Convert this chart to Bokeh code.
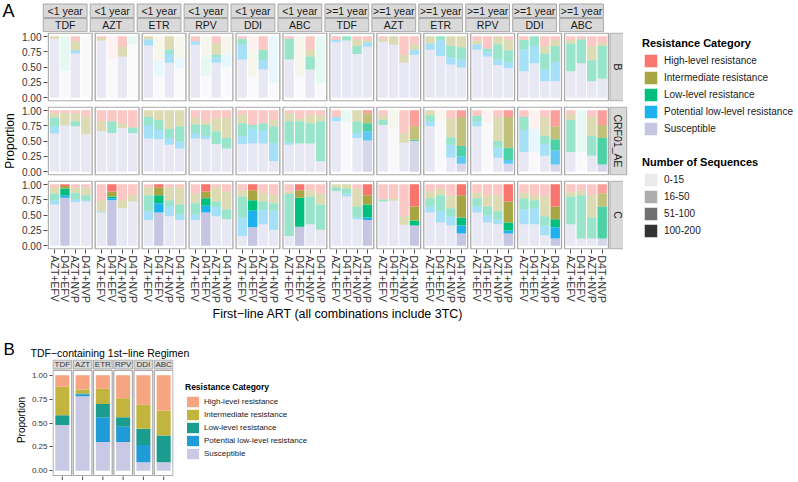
import numpy as np
from bokeh.plotting import figure
from bokeh.layouts import column, row
from bokeh.models import (FixedTicker, Range1d, Legend, LegendItem, PrintfTickFormatter)
from bokeh.embed import file_html
from bokeh.resources import INLINE
from bokeh.core.properties import value

# ---------------------------------------------------------------- data
categories = ["High-level resistance", "Intermediate resistance", "Low-level resistance",
              "Potential low-level resistance", "Susceptible"]
regimens = ["AZT+EFV", "D4T+EFV", "AZT+NVP", "D4T+NVP"]
durations = ["<1 year", "<1 year", "<1 year", "<1 year", "<1 year", "<1 year",
             ">=1 year", ">=1 year", ">=1 year", ">=1 year", ">=1 year", ">=1 year"]
drugs = ["TDF", "AZT", "ETR", "RPV", "DDI", "ABC", "TDF", "AZT", "ETR", "RPV", "DDI", "ABC"]
subtypes = ["B", "CRF01_AE", "C"]
count_classes = ["0-15", "16-50", "51-100", "100-200"]

# values: 12 facets x 4 regimens (facet-major order)
b_susceptible = [.96, .44, .72, 1.0, .93, .63, .67, .87, .85, .35, .57, .48, .86, .36, .57, .50,
                 .62, .36, .46, .24, .62, .36, .46, .24, .90, .93, .71, .83, .91, .86, .57, .70,
                 .78, .68, .54, .49, .78, .67, .53, .48, .43, .56, .27, .27, .43, .56, .27, .31]
b_potential = [0, 0, .05, 0, 0, 0, 0, 0, .10, .25, .14, .17, .06, 0, .09, .20,
               .25, 0, .15, .76, 0, 0, 0, 0, .04, 0, 0, .07, 0, 0, 0, .08,
               .10, .25, .12, .13, .09, .08, .09, .10, .36, .28, .19, .31, 0, 0, 0, 0]
b_low = [0, .56, 0, 0, 0, 0, 0, .13, 0, 0, .07, 0, 0, .30, .04, 0,
         .09, 0, .17, 0, .34, 0, .21, .76, 0, .07, .13, 0, 0, 0, 0, 0,
         0, .07, .18, .20, 0, .05, .25, .19, .15, .16, .26, .26, .45, .39, .34, .53]
b_intermediate = [.04, 0, .15, 0, .04, 0, .16, 0, .05, .40, .22, .35, 0, .34, .18, .30,
                  0, .40, 0, 0, 0, .64, .11, 0, 0, 0, .10, .04, .05, .14, .13, .09,
                  .12, 0, .16, .18, .06, 0, .13, .18, 0, 0, .12, .10, .06, 0, .23, .05]
b_high = [0, 0, .08, 0, .03, .37, .17, 0, 0, 0, 0, 0, .08, 0, .12, 0,
          .04, .24, .22, 0, .04, 0, .22, 0, .06, 0, .06, .06, .04, 0, .30, .13,
          0, 0, 0, 0, .07, .20, 0, .05, .06, 0, .16, .06, .06, .05, .16, .11]
b_counts = ["16-50", "0-15", "16-50", "0-15", "16-50", "0-15", "16-50", "0-15",
            "16-50", "0-15", "16-50", "0-15", "16-50", "0-15", "16-50", "0-15",
            "16-50", "0-15", "16-50", "0-15", "16-50", "0-15", "16-50", "0-15",
            "16-50", "16-50", "16-50", "16-50", "16-50", "16-50", "16-50", "16-50",
            "16-50", "16-50", "16-50", "16-50", "16-50", "16-50", "16-50", "16-50",
            "16-50", "16-50", "16-50", "16-50", "16-50", "16-50", "16-50", "16-50"]

ae_susceptible = [.62, .75, .74, .61, .66, .63, .71, .63, .54, .53, .44, .38, .54, .53, .45, .38,
                  .45, .46, .46, .17, .44, .46, .46, .17, .82, .80, .55, .51, .76, .70, .47, .50,
                  .74, .85, .23, .13, .74, .80, .23, .13, .32, .32, .26, .12, .32, .32, .26, .12]
ae_potential = [.12, 0, 0, 0, 0, 0, 0, 0, .22, .15, .11, .11, .09, .05, 0, 0,
                .13, .24, .22, .30, .03, 0, 0, 0, .07, 0, .08, .15, 0, 0, 0, 0,
                .08, 0, .21, .12, .08, 0, .16, .06, .36, .38, .19, .23, 0, 0, 0, 0]
ae_low = [.14, 0, .08, 0, 0, .19, 0, .09, .13, .16, .15, .25, .14, .18, .21, .17,
          .21, .06, .11, .27, .35, .36, .33, .65, 0, .20, .19, .13, .08, 0, 0, .02,
          .10, 0, .12, .17, .09, 0, .11, .20, .21, 0, .13, .18, .52, .68, .32, .43]
ae_intermediate = [.07, .20, .13, .29, .16, 0, .08, 0, .11, .16, .30, .26, .11, .06, .21, .33,
                   .14, 0, 0, .10, .13, .05, .13, .10, 0, 0, .18, .16, .08, .30, .16, .22,
                   .08, .15, .31, .47, 0, 0, .39, .50, 0, 0, .31, .21, .10, 0, .31, .21]
ae_high = [.05, .05, .05, .10, .18, .18, .21, .28, 0, 0, 0, 0, .12, .18, .13, .12,
           .07, .24, .21, .16, .05, .13, .08, .08, .11, 0, 0, .05, .08, 0, .37, .26,
           0, 0, .13, .11, .09, .20, .11, .11, .11, .30, .11, .26, .06, 0, .11, .24]
ae_counts = ["16-50", "16-50", "16-50", "16-50", "16-50", "16-50", "16-50", "16-50",
             "16-50", "16-50", "16-50", "16-50", "16-50", "16-50", "16-50", "16-50",
             "16-50", "16-50", "16-50", "16-50", "16-50", "16-50", "16-50", "16-50",
             "16-50", "0-15", "16-50", "51-100", "16-50", "0-15", "16-50", "51-100",
             "16-50", "0-15", "16-50", "51-100", "16-50", "0-15", "16-50", "51-100",
             "16-50", "0-15", "16-50", "51-100", "16-50", "0-15", "16-50", "51-100"]

c_susceptible = [.67, .78, .71, .72, .54, .74, .61, .72, .42, .54, .48, .42, .42, .54, .48, .43,
                 .16, .30, .35, .26, .16, .31, .35, .26, .89, .80, .43, .42, .72, .73, .34, .33,
                 .54, .38, .33, .20, .54, .38, .35, .20, .35, .35, .17, .12, .35, .12, .12, .12]
c_potential = [.07, .04, .04, .02, .02, .03, 0, 0, .15, .15, .16, .09, .09, .11, .15, 0,
               .30, .27, .24, .31, 0, 0, 0, 0, 0, .05, .03, .04, 0, 0, 0, 0,
               .10, .18, .15, .13, .10, .11, .08, .05, .24, .26, .16, .18, 0, 0, 0, 0]
c_low = [.11, .11, .11, .08, 0, .03, 0, 0, .25, .13, .10, .16, .18, .12, .09, .16,
         .34, .17, .13, .12, .68, .47, .45, .41, .06, .08, .18, .21, .03, 0, 0, .08,
         .13, .26, .13, .13, .13, .15, .13, .13, .18, .13, .15, .13, .45, .70, .34, .52]
c_intermediate = [.10, .04, .09, .13, .18, .08, .13, .10, .13, .13, .21, .28, .16, .11, .23, .29,
                  .10, .16, .14, .13, .04, .12, .10, .18, .05, .07, .29, .15, 0, .04, .14, .23,
                  .12, .11, .21, .36, .09, .18, .26, .34, .09, .08, .32, .21, .07, .08, .36, .21]
c_high = [.05, .03, .05, .05, .26, .12, .26, .18, .05, .05, .05, .05, .15, .12, .05, .12,
          .10, .10, .14, .18, .12, .10, .10, .15, 0, 0, .07, .18, .25, .23, .52, .36,
          .11, .07, .18, .18, .14, .18, .18, .28, .14, .18, .20, .36, .13, .10, .18, .15]
c_counts = ["16-50", "100-200", "16-50", "16-50", "16-50", "100-200", "16-50", "16-50",
            "16-50", "100-200", "16-50", "16-50", "16-50", "100-200", "16-50", "16-50",
            "16-50", "100-200", "16-50", "16-50", "16-50", "100-200", "16-50", "16-50",
            "16-50", "16-50", "16-50", "100-200", "16-50", "16-50", "16-50", "100-200",
            "16-50", "16-50", "16-50", "100-200", "16-50", "16-50", "16-50", "100-200",
            "16-50", "16-50", "16-50", "100-200", "16-50", "16-50", "16-50", "51-100"]

# panel B: TDF-containing first-line regimen
tdf_facets = ["TDF", "AZT", "ETR", "RPV", "DDI", "ABC"]
tdf_susceptible = [.48, .78, .30, .30, .09, .09]
tdf_potential = [0, .02, .26, .16, .18, 0]
tdf_low = [.10, .01, .14, .10, .17, .28]
tdf_intermediate = [.30, .04, .16, .20, .25, .26]
tdf_high = [.12, .15, .14, .24, .31, .37]

# ---------------------------------------------------------------- styles
FONT = "Liberation Sans"
COL_A = {"High-level resistance": "#F8766D", "Intermediate resistance": "#A8A643",
         "Low-level resistance": "#00BF7D", "Potential low-level resistance": "#1EB1EE",
         "Susceptible": "#C6C6E3"}
COL_B = {"High-level resistance": "#F6A580", "Intermediate resistance": "#C3B43E",
         "Low-level resistance": "#1A9C8E", "Potential low-level resistance": "#1F9BD7",
         "Susceptible": "#C9C9E6"}
ALPHA = {"0-15": 0.1, "16-50": 0.4, "51-100": 0.7, "100-200": 1.0}
STACK_ORDER = ["Susceptible", "Potential low-level resistance", "Low-level resistance",
               "Intermediate resistance", "High-level resistance"]
STRIP_FILL = "#D9D9D9"
BORDER = "#A9A9A9"
TXT = "#1A1A1A"
TICK_TXT = "#333333"

LEFT = 42
FW, FH = 581, 69
BAR_STEP, BAR_W, PAD, PITCH = 2, 1.8, 1.2, 9
n_facets = len(drugs)
xs = [f * PITCH + b * BAR_STEP for f in range(n_facets) for b in range(len(regimens))]
panel_l = [f * PITCH - PAD for f in range(n_facets)]
panel_r = [f * PITCH + (len(regimens) - 1) * BAR_STEP + PAD for f in range(n_facets)]
strip_l = panel_r[-1] + 0.3
strip_r = strip_l + 3.2
x_range = Range1d(-PAD - 0.15, strip_r + 0.35)
upp = (x_range.end - x_range.start) / FW   # data units per pixel


def style_yaxis(p, size="10px"):
    ax = p.yaxis[0]
    ax.ticker = FixedTicker(ticks=[0, 0.25, 0.5, 0.75, 1.0])
    ax.formatter = PrintfTickFormatter(format="%.2f")
    ax.axis_line_color = None
    ax.major_tick_in = 0
    ax.major_tick_out = 4
    ax.minor_tick_line_color = None
    ax.major_tick_line_color = "#4D4D4D"
    ax.major_label_text_font = FONT
    ax.major_label_text_font_size = size
    ax.major_label_text_color = TICK_TXT
    ax.major_label_standoff = 2


def base(p):
    p.outline_line_color = None
    p.grid.visible = False
    p.background_fill_color = "white"
    p.border_fill_color = "white"


# ---------------------------------------------------------------- strip figure (top of panel A)
SH = 32
sf = figure(frame_width=FW + LEFT, frame_height=SH,
            x_range=Range1d(x_range.start - LEFT * upp, x_range.end), y_range=Range1d(0, SH),
            x_axis_location=None, y_axis_location=None, output_backend="svg",
            toolbar_location=None, min_border=0)
base(sf)
sf.quad(left=panel_l, right=panel_r, bottom=15, top=28.5, fill_color=STRIP_FILL,
        line_color=BORDER, line_width=1)
sf.quad(left=panel_l, right=panel_r, bottom=0.8, top=14, fill_color=STRIP_FILL,
        line_color=BORDER, line_width=1)
mids = [(l + r) / 2 for l, r in zip(panel_l, panel_r)]
sf.text(x=mids, y=[21.8] * n_facets, text=durations, text_align="center", text_baseline="middle",
        text_font=value(FONT), text_font_size="10.5px", text_color=TXT)
sf.text(x=mids, y=[7.4] * n_facets, text=drugs, text_align="center", text_baseline="middle",
        text_font=value(FONT), text_font_size="10.5px", text_color=TXT)
sf.text(x=[x_range.start - (LEFT - 2) * upp], y=[SH - 0.5], text=["A"], text_baseline="top",
        text_font=value(FONT), text_font_size="18px", text_color="black")


def make_row(name, stacks, counts, bottom_axis, mb, ylabel=""):
    p = figure(frame_width=FW, frame_height=FH, x_range=x_range, y_range=Range1d(-0.06, 1.06),
               x_axis_location="below" if bottom_axis else None, output_backend="svg",
               toolbar_location=None, min_border=0, min_border_left=LEFT, min_border_right=0,
               min_border_top=0, min_border_bottom=mb)
    base(p)
    p.quad(left=panel_l, right=panel_r, bottom=-0.05, top=1.05, fill_color="white", line_color=None)
    alphas = [ALPHA[c] for c in counts]
    cum = np.zeros(len(xs))
    for cat in STACK_ORDER:
        top = cum + np.array(stacks[cat], dtype=float)
        p.vbar(x=xs, bottom=cum, top=top, width=BAR_W, fill_color=COL_A[cat],
               fill_alpha=alphas, line_color=None)
        cum = top
    p.quad(left=panel_l, right=panel_r, bottom=-0.05, top=1.05, fill_color=None,
           line_color=BORDER, line_width=1.3)
    p.quad(left=[strip_l], right=[strip_r], bottom=[-0.05], top=[1.05], fill_color=STRIP_FILL,
           line_color=BORDER, line_width=1)
    p.text(x=[(strip_l + strip_r) / 2], y=[0.5], text=[name], angle=-np.pi / 2,
           text_align="center", text_baseline="middle", text_font=value(FONT),
           text_font_size="10.5px", text_color=TXT)
    style_yaxis(p)
    if ylabel:
        ax = p.yaxis[0]
        ax.axis_label = ylabel
        ax.axis_label_text_font = FONT
        ax.axis_label_text_font_size = "12px"
        ax.axis_label_text_font_style = "normal"
        ax.axis_label_text_color = "black"
        ax.axis_label_standoff = 2
    if bottom_axis:
        ax = p.xaxis[0]
        ax.ticker = FixedTicker(ticks=xs)
        ax.major_label_overrides = {x: regimens[i % len(regimens)] for i, x in enumerate(xs)}
        ax.major_label_orientation = -np.pi / 2
        ax.major_label_text_font = FONT
        ax.major_label_text_font_size = "10.5px"
        ax.major_label_text_color = TICK_TXT
        ax.major_label_standoff = 2
        ax.axis_line_color = None
        ax.major_tick_in = 0
        ax.major_tick_out = 4
        ax.minor_tick_line_color = None
        ax.major_tick_line_color = "#4D4D4D"
        ax.axis_label = "First\u2212line ART (all combinations include 3TC)"
        ax.axis_label_text_font = FONT
        ax.axis_label_text_font_size = "12.5px"
        ax.axis_label_text_font_style = "normal"
        ax.axis_label_text_color = "black"
        ax.axis_label_standoff = 1
    return p


stacks_b = {"Susceptible": b_susceptible, "Potential low-level resistance": b_potential,
            "Low-level resistance": b_low, "Intermediate resistance": b_intermediate,
            "High-level resistance": b_high}
stacks_ae = {"Susceptible": ae_susceptible, "Potential low-level resistance": ae_potential,
             "Low-level resistance": ae_low, "Intermediate resistance": ae_intermediate,
             "High-level resistance": ae_high}
stacks_c = {"Susceptible": c_susceptible, "Potential low-level resistance": c_potential,
            "Low-level resistance": c_low, "Intermediate resistance": c_intermediate,
            "High-level resistance": c_high}

r1 = make_row(subtypes[0], stacks_b, b_counts, False, 5)
r2 = make_row(subtypes[1], stacks_ae, ae_counts, False, 5, ylabel="Proportion")
r3 = make_row(subtypes[2], stacks_c, c_counts, True, 85)

# the strip figure is wrapped in a row so its frame is not aligned with the panels' frames
colA = column(row(sf, spacing=0), r1, r2, r3, spacing=0)

# ---------------------------------------------------------------- legend figure for panel A
LGH = 300
lg = figure(frame_width=175, frame_height=LGH, x_range=Range1d(0, 1), y_range=Range1d(0, 1),
            x_axis_location=None, y_axis_location=None,
            output_backend="svg", toolbar_location=None, min_border=0)
base(lg)
items1 = []
for cat in categories:
    r = lg.vbar(x=[5], bottom=[0], top=[1], width=1, fill_color=COL_A[cat],
                line_color="white", line_width=1)
    items1.append(LegendItem(label=cat, renderers=[r]))
items2 = []
for cc in count_classes:
    r = lg.vbar(x=[5], bottom=[0], top=[1], width=1, fill_color="#333333", fill_alpha=ALPHA[cc],
                line_color="white", line_width=1)
    items2.append(LegendItem(label=cc, renderers=[r]))


def style_legend(L, fs, tfs, gh, gw):
    L.label_text_font = FONT
    L.label_text_font_size = fs
    L.label_text_color = TXT
    L.title_text_font = FONT
    L.title_text_font_size = tfs
    L.title_text_font_style = "bold"
    L.title_text_color = "black"
    L.glyph_height = gh
    L.glyph_width = gw
    L.label_height = gh
    L.label_standoff = 5
    L.spacing = 0
    L.padding = 0
    L.margin = 0
    L.title_standoff = 3
    L.border_line_color = None
    L.background_fill_alpha = 0


leg1 = Legend(items=items1, title="Resistance Category", location=(14, LGH - 137))
leg2 = Legend(items=items2, title="Number of Sequences", location=(14, LGH - 239))
style_legend(leg1, "10px", "11px", 17, 17)
style_legend(leg2, "10px", "11px", 17, 17)
lg.add_layout(leg1)
lg.add_layout(leg2)

# ---------------------------------------------------------------- panel B heading
HH = 25
hd = figure(frame_width=320, frame_height=HH, x_range=Range1d(0, 320), y_range=Range1d(0, HH),
            x_axis_location=None, y_axis_location=None, output_backend="svg",
            toolbar_location=None, min_border=0)
base(hd)
hd.text(x=[3], y=[HH - 5], text=["B"], text_baseline="top", text_font=value(FONT),
        text_font_size="17px", text_color="black")
hd.text(x=[30], y=[7], text=["TDF\u2212containing 1st\u2212line Regimen"],
        text_baseline="middle", text_font=value(FONT), text_font_size="10.5px", text_color="black")

# ---------------------------------------------------------------- panel B
PB_PITCH, PB_PAD, PB_W = 13, 6, 9
xb = [i * PB_PITCH for i in range(len(tdf_facets))]
pb_l = [x - PB_PAD for x in xb]
pb_r = [x + PB_PAD for x in xb]
PB_FH = 121
ppu = 105 / 1.1                      # pixels per proportion unit
y_lo = -0.05 - 5 / ppu
y_hi = 1.05 + 11 / ppu
pb = figure(frame_width=121, frame_height=PB_FH,
            x_range=Range1d(pb_l[0] - 0.3, pb_r[-1] + 0.3),
            y_range=Range1d(y_lo, y_hi), x_axis_location=None, output_backend="svg",
            toolbar_location=None, min_border=0, min_border_left=52, min_border_right=0)
base(pb)
pb.quad(left=pb_l, right=pb_r, bottom=-0.05, top=1.05, fill_color="white", line_color=None)
tstacks = {"Susceptible": tdf_susceptible, "Potential low-level resistance": tdf_potential,
           "Low-level resistance": tdf_low, "Intermediate resistance": tdf_intermediate,
           "High-level resistance": tdf_high}
cum = np.zeros(len(xb))
rend = {}
for cat in STACK_ORDER:
    top = cum + np.array(tstacks[cat], dtype=float)
    rend[cat] = pb.vbar(x=xb, bottom=cum, top=top, width=PB_W, fill_color=COL_B[cat], line_color=None)
    cum = top
pb.quad(left=pb_l, right=pb_r, bottom=-0.05, top=1.05, fill_color=None, line_color=BORDER,
        line_width=1.2)
pb.quad(left=pb_l, right=pb_r, bottom=1.05 + 1.5 / ppu, top=1.05 + 10.5 / ppu,
        fill_color=STRIP_FILL, line_color=BORDER, line_width=1)
pb.text(x=xb, y=[1.05 + 6 / ppu] * len(xb), text=tdf_facets, text_align="center",
        text_baseline="middle", text_font=value(FONT), text_font_size="8px", text_color="#333333")
pb.segment(x0=xb, x1=xb, y0=[-0.05 - 1 / ppu] * len(xb), y1=[-0.05 - 4.5 / ppu] * len(xb),
           line_color="#4D4D4D", line_width=1)
style_yaxis(pb, "8px")
pb.yaxis[0].major_tick_out = 3
pb.yaxis[0].axis_label = "Proportion"
pb.yaxis[0].axis_label_text_font = FONT
pb.yaxis[0].axis_label_text_font_size = "10px"
pb.yaxis[0].axis_label_text_font_style = "normal"
pb.yaxis[0].axis_label_text_color = "black"
pb.yaxis[0].axis_label_standoff = 2
legB = Legend(items=[LegendItem(label=c, renderers=[rend[c]]) for c in categories],
              title="Resistance Category", location=(12, 20))
style_legend(legB, "8px", "8.5px", 13, 15)
legB.margin = 12
legB.label_standoff = 4
pb.add_layout(legB, "right")

layout = column(row(colA, lg, spacing=0), row(hd, spacing=0), pb, spacing=0)
open("out.html", "w").write(file_html(layout, INLINE))
